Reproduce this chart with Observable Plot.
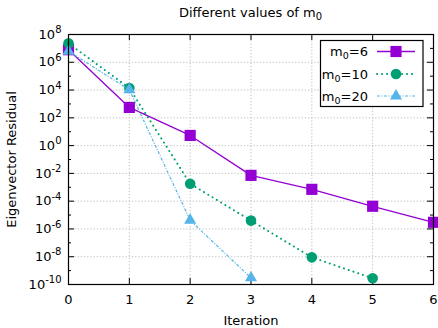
<!DOCTYPE html>
<html>
<head>
<meta charset="utf-8">
<script src="https://cdn.jsdelivr.net/npm/d3@7"></script>
<script src="https://cdn.jsdelivr.net/npm/@observablehq/plot@0.6"></script>
<style>
  html, body { margin: 0; padding: 0; background: white; }
  svg text { font-family: "DejaVu Sans", sans-serif; }
</style>
</head>
<body>
<div id="chart"></div>
<script>
// ---- data ----
const iterations = [0, 1, 2, 3, 4, 5, 6];
const seriesNames = ["6", "10", "20"];
const residualM6 = [8e6, 5.6e2, 5.4, 7.2e-3, 7.1e-4, 4.3e-5, 3.0e-6];
const residualM10 = [2.3e7, 1.4e4, 1.8e-3, 4.0e-6, 9.0e-9, 2.8e-10];
const residualM20 = [6.3e6, 1.05e4, 4.2e-6, 3.0e-10];
const xTicks = [0, 1, 2, 3, 4, 5, 6];
const yMajorExp = [-10, -8, -6, -4, -2, 0, 2, 4, 6, 8];
const yMinorExp = [-9, -7, -5, -3, -1, 1, 3, 5, 7];

const title = "Different values of m";
const xLabel = "Iteration";
const yLabel = "Eigenvector Residual";

// ---- build table ----
const rows = [];
[residualM6, residualM10, residualM20].forEach((vals, si) => {
  vals.forEach((v, i) => rows.push({series: seriesNames[si], x: iterations[i], y: v}));
});
const yMajor = yMajorExp.map(e => Math.pow(10, e));
const yMinor = yMinorExp.map(e => Math.pow(10, e));

const W = 438, H = 328, ML = 68, MR = 5, MT = 34, MB = 44;
const FW = W - ML - MR, FH = H - MT - MB;
const FS = 13;

const styles = {
  "6":  {color: "#9400d3", dash: null, symbol: "square", r: 6.3, width: 1.3, cap: "butt"},
  "10": {color: "#009e73", dash: "0.1,4.9", symbol: "circle", r: 5.3, width: 2, cap: "round"},
  "20": {color: "#56b4e9", dash: "3,1.5,1,1.5", symbol: "triangle", r: 4.5, width: 1.2, cap: "butt"}
};

const lineMarks = [];
for (const s of seriesNames) {
  const st = styles[s];
  const d = rows.filter(r => r.series === s);
  lineMarks.push(Plot.line(d, {x: "x", y: "y", stroke: st.color, strokeWidth: st.width,
    strokeDasharray: st.dash, strokeLinecap: st.cap}));
  lineMarks.push(Plot.dot(d, {x: "x", y: "y", fill: st.color, r: st.r, symbol: st.symbol, stroke: "none"}));
}

const gridStyle = {stroke: "#bdbdbd", strokeOpacity: 1, strokeDasharray: "1.2,2", strokeWidth: 1};

const chart = Plot.plot({
  width: W, height: H,
  marginLeft: ML, marginRight: MR, marginTop: MT, marginBottom: MB,
  style: {fontFamily: "DejaVu Sans", fontSize: FS + "px", background: "white", color: "black", overflow: "visible"},
  x: {domain: [0, 6]},
  y: {type: "log", domain: [1e-10, 1e8]},
  marks: [
    Plot.gridX(xTicks.slice(1, -1), gridStyle),
    Plot.gridY(yMajor.slice(1, -1), gridStyle),
    Plot.axisX(xTicks, {tickSize: 0, tickPadding: 10, tickFormat: d => String(d), fontSize: FS,
      label: xLabel, labelAnchor: "center", labelArrow: "none", labelOffset: 40}),
    Plot.axisY(yMajor, {tickSize: 0, tickPadding: 7, fontSize: FS,
      tickFormat: d => String(Math.round(Math.log10(d))),
      label: yLabel, labelAnchor: "center", labelArrow: "none", labelOffset: 62}),
    // inward ticks: left / right
    Plot.tickY(yMajor, {y: d => d, insetRight: FW - 6, stroke: "black"}),
    Plot.tickY(yMinor, {y: d => d, insetRight: FW - 3, stroke: "black"}),
    Plot.tickY(yMajor, {y: d => d, insetLeft: FW - 6, stroke: "black"}),
    Plot.tickY(yMinor, {y: d => d, insetLeft: FW - 3, stroke: "black"}),
    // inward ticks: bottom / top
    Plot.tickX(xTicks, {x: d => d, insetTop: FH - 6, stroke: "black"}),
    Plot.tickX(xTicks, {x: d => d, insetBottom: FH - 6, stroke: "black"}),
    ...lineMarks,
    Plot.frame({stroke: "black", strokeWidth: 1.2})
  ]
});

document.getElementById("chart").appendChild(chart);
const svg = d3.select(chart);

// superscript exponents on y tick labels
svg.selectAll('g[aria-label="y-axis tick label"] text').each(function() {
  const t = d3.select(this);
  const e = t.text();
  t.text("10");
  t.append("tspan").attr("dy", -5.5).attr("font-size", 10).text(e);
});

// title with subscript
const tt = svg.append("text")
  .attr("x", ML + FW / 2).attr("y", 17)
  .attr("text-anchor", "middle").attr("font-size", FS).attr("fill", "black")
  .text(title);
tt.append("tspan").attr("dy", 3).attr("font-size", 10).text("0");

// legend
const lg = svg.append("g");
lg.append("rect").attr("x", 320.5).attr("y", 40.5).attr("width", 102.5).attr("height", 66)
  .attr("fill", "white").attr("stroke", "black").attr("stroke-width", 1.2);
const lgY = [51.5, 74, 96];
const symMap = {square: d3.symbolSquare, circle: d3.symbolCircle, triangle: d3.symbolTriangle};
seriesNames.forEach((s, i) => {
  const st = styles[s];
  const y = lgY[i];
  const t = lg.append("text").attr("x", 368).attr("y", y + 4.5)
    .attr("text-anchor", "end").attr("font-size", FS).attr("fill", "black").text("m");
  t.append("tspan").attr("dy", 3).attr("font-size", 9.5).text("0");
  t.append("tspan").attr("dy", -3).attr("font-size", FS).text("=" + s);
  lg.append("line").attr("x1", 377).attr("x2", 415).attr("y1", y).attr("y2", y)
    .attr("stroke", st.color).attr("stroke-width", st.width)
    .attr("stroke-dasharray", st.dash).attr("stroke-linecap", st.cap);
  lg.append("path").attr("transform", `translate(396,${y})`)
    .attr("d", d3.symbol(symMap[st.symbol], Math.PI * st.r * st.r)())
    .attr("fill", st.color);
});
</script>
</body>
</html>
